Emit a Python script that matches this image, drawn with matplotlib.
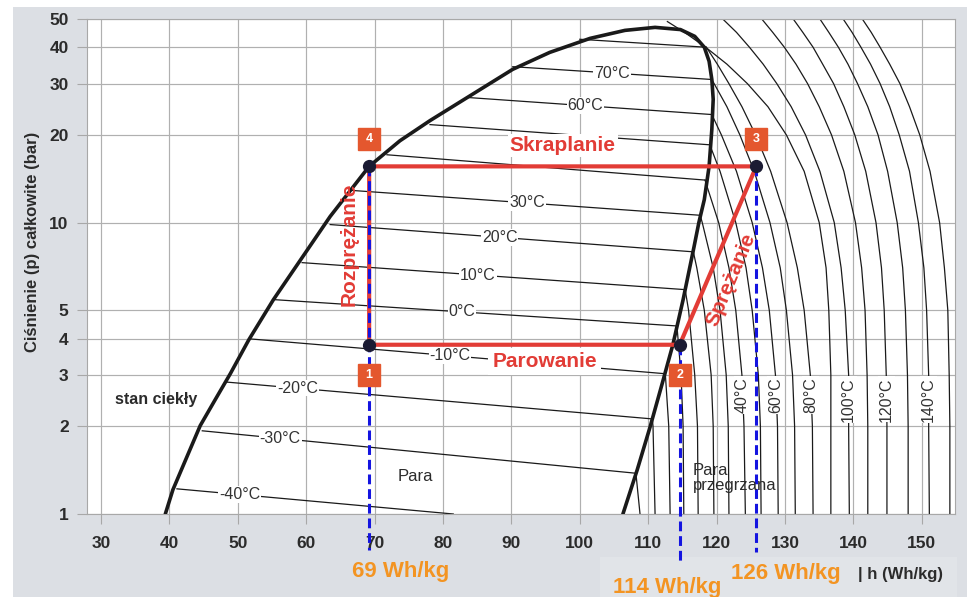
import numpy as np
import matplotlib.pyplot as plt
from matplotlib.patches import Rectangle
from matplotlib.transforms import offset_copy

plt.rcParams['font.family'] = ['Liberation Sans', 'DejaVu Sans']

W, H = 967, 597
N = None

# saturation curve (h in Wh/kg, p in bar): liquid side up, vapour side down
dome_h = [39.4, 40.5, 42.5, 44.5, 46.7, 48.9, 51.6, 55.2, 63.5, 69.2, 73.7, 78.1, 84.0, 90.2,
          95.6, 101.5, 106.6, 111.0, 114.7, 116.8, 118.2, 118.9, 119.3, 119.5, 119.3,
          118.9, 118.2, 117.4, 116.7, 115.1, 113.6, 112.0, 110.3, 108.4, 106.3]
dome_p = [1.0, 1.21, 1.56, 2.01, 2.47, 3.03, 3.96, 5.44, 10.5, 15.6, 19.1, 22.4, 27.3, 33.6,
          38.4, 42.9, 45.7, 46.8, 46.0, 43.6, 40.0, 35.8, 31.0, 26.5, 20.9,
          15.6, 12.0, 10.0, 8.27, 5.44, 3.81, 2.78, 2.0, 1.42, 1.0]

# isotherms in the wet region (liquid side -> vapour side)
iso_t = [-40, -30, -20, -10, 0, 10, 20, 30, 40, 50, 60, 70, 80]
iso_h_liq = [41.1, 44.8, 48.1, 51.8, 55.4, 59.4, 63.5, 66.7, 71.8, 78.1, 83.5, 90.2, 100.0]
iso_p_liq = [1.22, 1.93, 2.84, 3.99, 5.44, 7.29, 9.85, 12.9, 17.1, 21.7, 26.9, 34.3, 42.6]
iso_h_vap = [81.5, 108.2, 110.6, 112.5, 114.2, 115.4, 116.6, 117.6, 118.3, 119.0, 119.3, 119.3, 118.5]
iso_p_vap = [1.0, 1.38, 2.12, 3.03, 4.42, 5.89, 7.94, 10.6, 14.0, 18.5, 23.5, 31.0, 40.0]
iso_label_h = [50.3, 56.2, 58.7, 81.0, 82.8, 85.1, 88.3, 92.3, N, N, 100.8, 104.7, N]

# isotherms in the superheated region
sh_t = [-30, -20, -10, 0, 10, 20, 30, 40, 50, 60, 70, 80, 90, 100, 110, 120, 130, 140, 150]
sh_start_h = [108.2, 110.6, 112.5, 114.2, 115.4, 116.6, 117.6, 118.3, 119.0, 119.3, 119.3, 118.5,
              112.8, N, N, N, N, N, N]
sh_start_p = [1.38, 2.12, 3.03, 4.42, 5.89, 7.94, 10.6, 14.0, 18.5, 23.5, 31.0, 40.0,
              49.0, N, N, N, N, N, N]
sh_p = [50, 45, 40, 35, 30, 25, 20, 15, 10, 7, 5, 3, 2, 1]
sh_h = [
    [N, N, N, N, N, N, N, N, N, N, N, N, N, 108.8],
    [N, N, N, N, N, N, N, N, N, N, N, N, 110.7, 111.0],
    [N, N, N, N, N, N, N, N, N, N, N, N, 113.0, 113.2],
    [N, N, N, N, N, N, N, N, N, N, N, 114.8, 115.1, 115.2],
    [N, N, N, N, N, N, N, N, N, N, 115.9, 116.8, 117.2, 117.3],
    [N, N, N, N, N, N, N, N, N, 117.1, 118.2, 119.2, 119.5, 119.6],
    [N, N, N, N, N, N, N, N, 117.9, 119.5, 120.5, 121.4, 121.7, 121.8],
    [N, N, N, N, N, N, N, N, 120.3, 121.8, 122.8, 123.7, 124.0, 124.2],
    [N, N, N, N, N, N, N, 120.5, 122.8, 124.3, 125.2, 126.1, 126.4, 126.5],
    [N, N, N, N, N, N, 120.7, 122.9, 125.2, 126.7, 127.7, 128.6, 128.9, 129.0],
    [N, N, N, N, N, 121.5, 123.4, 125.5, 127.8, 129.3, 130.2, 131.1, 131.4, 131.5],
    [N, N, N, 120.1, 121.8, 123.7, 125.7, 127.9, 130.3, 131.8, 132.8, 133.7, 134.0, 134.1],
    [N, 115.3, 118.4, 121.5, 124.5, 127.5, 130.2, 132.8, 135.0, 136.0, 136.4, 136.7, 136.7, 136.7],
    [120.9, 122.9, 124.8, 126.8, 128.8, 130.9, 133.0, 135.1, 137.2, 138.2, 138.8, 139.3, 139.3, 139.4],
    [126.6, 128.2, 129.9, 131.6, 133.3, 135.0, 136.8, 138.6, 140.3, 141.2, 141.7, 142.0, 142.1, 142.1],
    [131.2, 132.6, 134.1, 135.5, 137.1, 138.6, 140.2, 141.8, 143.3, 144.1, 144.5, 144.8, 144.9, 144.9],
    [135.1, 136.4, 137.8, 139.2, 140.6, 142.1, 143.6, 145.0, 146.4, 147.2, 147.6, 147.9, 148.0, 148.0],
    [138.5, 139.8, 141.1, 142.5, 143.9, 145.3, 146.7, 148.2, 149.5, 150.3, 150.7, 151.0, 151.0, 151.1],
    [141.3, 142.6, 143.9, 145.3, 146.8, 148.2, 149.7, 151.2, 152.6, 153.3, 153.8, 154.0, 154.1, 154.1],
]
sh_label_t = [40, 60, 80, 100, 120, 140]

# refrigeration cycle points 1..4
cyc_h = [69.2, 114.6, 125.8, 69.2]
cyc_p = [3.81, 3.81, 15.6, 15.6]
cyc_name = ['1', '2', '3', '4']
cyc_box_dy = [-22, -22, 20, 20]     # label box offset (points)
drop_h = [69.2, 114.6, 125.8]
drop_top = [15.6, 3.81, 15.6]
drop_bottom = [0.752, 0.668, 0.74]
drop_text = ['69 Wh/kg', '114 Wh/kg', '126 Wh/kg']
drop_text_xy = [(401, 572), (667, 587), (786, 573)]

xticks = [30, 40, 50, 60, 70, 80, 90, 100, 110, 120, 130, 140, 150]
yticks = [1, 2, 3, 4, 5, 10, 20, 30, 40, 50]

RED = '#e23c36'
BLUE = '#1414e0'
ORANGE = '#f39422'
BOX = '#e4572e'
INK = '#2b2b2b'

fig = plt.figure(figsize=(W / 100, H / 100), dpi=100, facecolor='white')
fig.patches.append(Rectangle((13 / W, 0), 1, 1 - 7 / H, transform=fig.transFigure,
                             facecolor='#dcdfe4', edgecolor='none', zorder=-10))
fig.patches.append(Rectangle((600 / W, 0), 357 / W, 40 / H, transform=fig.transFigure,
                             facecolor='#e1e4e8', edgecolor='none', zorder=-9))
ax = fig.add_axes([87 / W, 1 - 514 / H, 868 / W, 495 / H])
ax.set_zorder(1)
ax.set_facecolor('white')
ax.set_yscale('log')
ax.set_xlim(27.95, 154.85)
ax.set_ylim(1, 50)

ax.set_xticks(xticks)
ax.set_xticklabels([str(v) for v in xticks])
ax.set_yticks(yticks)
ax.set_yticklabels([str(v) for v in yticks])
ax.yaxis.set_minor_locator(plt.NullLocator())
ax.tick_params(axis='both', length=7.2, width=0.8, color='#a8a8a8', labelsize=12.5,
               labelcolor=INK)
ax.tick_params(axis='x', pad=8.5)
ax.tick_params(axis='y', pad=6)
for lab in ax.get_xticklabels() + ax.get_yticklabels():
    lab.set_fontweight('bold')
ax.grid(True, color='#b0b0b0', lw=0.85, zorder=0)
ax.set_axisbelow(True)
for s in ax.spines.values():
    s.set_color('#a8a8a8')
    s.set_linewidth(0.8)

# wet-region isotherms with labels
for t, h0, p0, h1, p1, hl in zip(iso_t, iso_h_liq, iso_p_liq, iso_h_vap, iso_p_vap, iso_label_h):
    ax.plot([h0, h1], [p0, p1], color='#1a1a1a', lw=0.9, zorder=2)
    if hl is not None:
        pl = 10 ** np.interp(hl, [h0, h1], [np.log10(p0), np.log10(p1)])
        ax.text(hl, pl, f'{t}°C', fontsize=11.5, color='#333333', ha='center', va='center',
                zorder=3, bbox=dict(facecolor='white', edgecolor='none', pad=0.6))

# superheated isotherms
for i, t in enumerate(sh_t):
    hs, ps = [], []
    if sh_start_h[i] is not None:
        hs.append(sh_start_h[i])
        ps.append(sh_start_p[i])
    for pv, hv in zip(sh_p, sh_h[i]):
        if hv is not None:
            hs.append(hv)
            ps.append(pv)
    ax.plot(hs, ps, color='#1a1a1a', lw=0.9, zorder=2)
    if t in sh_label_t:
        hl = sh_h[i][sh_p.index(3)]
        ax.text(hl, 2.95, f'{t}°C', fontsize=11.5, rotation=90, color='#333333',
                ha='center', va='top', zorder=3,
                bbox=dict(facecolor='white', edgecolor='none', pad=0.6))

# saturation dome
ax.plot(dome_h, dome_p, color='#1a1a1a', lw=2.6, zorder=3, solid_capstyle='round',
        solid_joinstyle='round')

# cycle
ax.plot(cyc_h + [cyc_h[0]], cyc_p + [cyc_p[0]], color=RED, lw=3.0, zorder=4,
        solid_joinstyle='miter')
for h, p0, p1 in zip(drop_h, drop_top, drop_bottom):
    ax.plot([h, h], [p0, p1], color=BLUE, lw=2.2, ls=(0, (3.2, 1.6)), zorder=5,
            clip_on=False)
ax.plot(cyc_h, cyc_p, 'o', color='#1b1b33', ms=8.5, zorder=6)
for h, p, name, dy in zip(cyc_h, cyc_p, cyc_name, cyc_box_dy):
    tr = offset_copy(ax.transData, fig=fig, x=0, y=dy, units='points')
    ax.plot(h, p, 's', ms=16.5, color=BOX, transform=tr, zorder=7)
    ax.text(h, p, name, transform=tr, color='white', fontsize=9, fontweight='bold',
            ha='center', va='center', zorder=8)

ax.text(97.5, 18.4, 'Skraplanie', color=RED, fontsize=15, fontweight='bold',
        ha='center', va='center', zorder=6,
        bbox=dict(facecolor='white', edgecolor='none', pad=1.5))
ax.text(94.9, 3.33, 'Parowanie', color=RED, fontsize=15, fontweight='bold',
        ha='center', va='center', zorder=6,
        bbox=dict(facecolor='white', edgecolor='none', pad=3))
ax.text(66.3, 8.4, 'Rozprężanie', color=RED, fontsize=15, fontweight='bold',
        rotation=90, ha='center', va='center', zorder=6)
ax.text(122.1, 6.37, 'Sprężanie', color=RED, fontsize=15, fontweight='bold',
        rotation=67, ha='center', va='center', zorder=6)

ax.text(38.0, 2.47, 'stan ciekły', color=INK, fontsize=11.5, fontweight='bold',
        ha='center', va='center', zorder=6)
ax.text(76.0, 1.35, 'Para', color=INK, fontsize=12, ha='center', va='center', zorder=6)
ax.text(116.5, 1.33, 'Para\nprzegrzana', color=INK, fontsize=12, ha='left', va='center',
        linespacing=1.0, zorder=6)

for txt, (px, py) in zip(drop_text, drop_text_xy):
    fig.text(px / W, 1 - py / H, txt, color=ORANGE, fontsize=16, fontweight='bold',
             ha='center', va='center', zorder=5)

fig.text(33 / W, 1 - 242 / H, 'Ciśnienie (p) całkowite (bar)', rotation=90, fontsize=12,
         fontweight='bold', color=INK, ha='center', va='center', zorder=5)
fig.text(900 / W, 1 - 575 / H, '| h (Wh/kg)', fontsize=12, fontweight='bold', color=INK,
         ha='center', va='center', zorder=5)

fig.savefig('out.png', dpi=100, facecolor=fig.get_facecolor())
